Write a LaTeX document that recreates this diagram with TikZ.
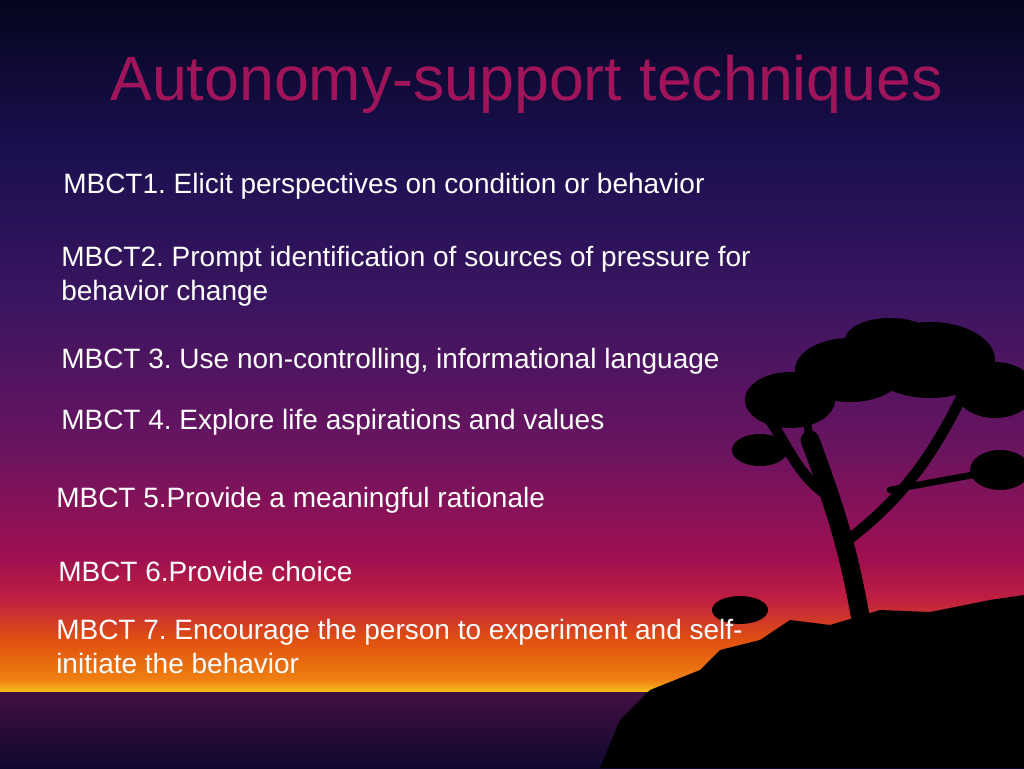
\documentclass[tikz,border=0pt]{standalone}
\usepackage{fontspec}
\setmainfont{Liberation Sans}
\begin{document}
\frenchspacing
\begin{tikzpicture}[x=0.75pt,y=0.75pt]
\definecolor{c0}{HTML}{05051E}\definecolor{c1}{HTML}{1A1050}\definecolor{c2}{HTML}{3A1560}
\definecolor{c3}{HTML}{6A1460}\definecolor{c4}{HTML}{A01050}\definecolor{c5}{HTML}{C02040}
\definecolor{c6}{HTML}{E05010}\definecolor{c7}{HTML}{F08010}\definecolor{c8}{HTML}{F8C020}
\definecolor{c9}{HTML}{401040}\definecolor{c10}{HTML}{100830}\definecolor{titlec}{HTML}{A0155A}
\useasboundingbox (0,0) rectangle (1024,768);
\shade[top color=c0,bottom color=c1] (0,768) rectangle (1024,618);
\shade[top color=c1,bottom color=c2] (0,618.5) rectangle (1024,468);
\shade[top color=c2,bottom color=c3] (0,468.5) rectangle (1024,318);
\shade[top color=c3,bottom color=c4] (0,318.5) rectangle (1024,208);
\shade[top color=c4,bottom color=c5] (0,208.5) rectangle (1024,168);
\shade[top color=c5,bottom color=c6] (0,168.5) rectangle (1024,128);
\shade[top color=c6,bottom color=c7] (0,128.5) rectangle (1024,88);
\shade[top color=c7,bottom color=c8] (0,88.5) rectangle (1024,76);
\shade[top color=c9,bottom color=c10] (0,76) rectangle (1024,0);
\begin{scope}[shift={(0,768)},yscale=-1]
\fill[black] (600,768) -- (620,720) -- (650,690) -- (700,670) -- (720,650) -- (760,640) -- (790,620) -- (830,625) -- (880,610) -- (930,612) -- (990,600) -- (1024,595) -- (1024,768) -- cycle;
\fill[black] (740,610) ellipse (28 and 14);
\draw[black,line width=14pt,line cap=round] (860,615) .. controls (850,560) and (840,520) .. (810,440);
\draw[black,line width=8pt,line cap=round] (848,540) .. controls (900,500) and (930,460) .. (960,400);
\draw[black,line width=8pt,line cap=round] (835,500) .. controls (800,480) and (790,450) .. (770,420);
\draw[black,line width=6pt,line cap=round] (810,440) -- (800,380);
\draw[black,line width=5pt,line cap=round] (890,490) -- (1000,470);
\fill[black] (790,400) ellipse (45 and 28) (850,370) ellipse (55 and 32) (930,360) ellipse (65 and 38)
 (995,390) ellipse (40 and 28) (1000,470) ellipse (30 and 20) (760,450) ellipse (28 and 16)
 (890,340) ellipse (45 and 22);
\end{scope}
\tikzset{item/.style={anchor=west,text=white,font=\fontsize{21}{25.5}\selectfont,align=left,inner sep=0pt}}
\node[anchor=west,text=titlec,font=\fontsize{47}{52}\selectfont,inner sep=0pt] (title) at (110,768-84) {Autonomy-support techniques};
\node[item] (m1) at (63,768-186) {MBCT1. Elicit perspectives on condition or behavior};
\node[item] (m2) at (61,768-276) {MBCT2. Prompt identification of sources of pressure for\\behavior change};
\node[item] (m3) at (61,768-361) {MBCT 3. Use non-controlling, informational language};
\node[item] (m4) at (61,768-422) {MBCT 4. Explore life aspirations and values};
\node[item] (m5) at (56,768-500) {MBCT 5.Provide a meaningful rationale};
\node[item] (m6) at (58,768-571) {MBCT 6.Provide choice};
\node[item] (m7) at (56,768-646) {MBCT 7. Encourage the person to experiment and self-\\initiate the behavior};
\end{tikzpicture}
\end{document}
